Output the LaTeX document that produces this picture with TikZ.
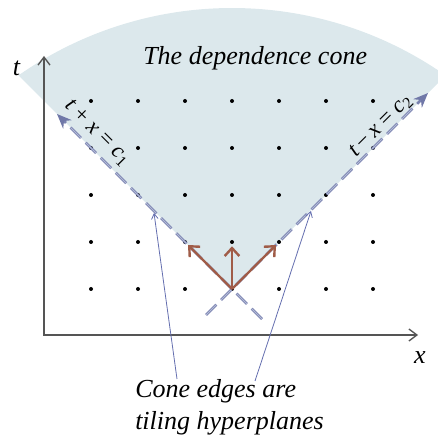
\documentclass[tikz,border=0pt]{standalone}
\usepackage{fontspec}
\setmainfont{Liberation Serif}
\usetikzlibrary{arrows.meta}
\definecolor{conefill}{RGB}{220,232,236}
\definecolor{edgeblue}{RGB}{122,130,176}
\definecolor{edgelight}{RGB}{178,186,214}
\definecolor{edgetip}{RGB}{112,120,168}
\definecolor{brownarrow}{RGB}{160,92,72}
\definecolor{pointerblue}{RGB}{100,110,175}
\definecolor{axisgray}{RGB}{85,85,85}
\begin{document}
\begin{tikzpicture}[x=0.75pt,y=0.75pt,
  axis/.style={draw=axisgray, line width=1pt},
  dotnode/.style={circle, fill=black, inner sep=0pt, minimum size=3pt},
  coneedge/.style={draw=edgeblue, line width=2pt, dash pattern=on 11pt off 5pt, -{Stealth[length=11pt,width=9pt,color=edgetip]}},
  coneinner/.style={draw=edgelight, line width=0.6pt, dash pattern=on 11pt off 5pt, shorten >=12pt},
  deparrow/.style={draw=brownarrow, line width=1.8pt, -{Straight Barb[length=6pt,width=11pt]}, shorten >=1.5pt},
  pointer/.style={draw=pointerblue, line width=0.6pt, -{Straight Barb[length=4pt,width=5pt]}},
  bigtext/.style={font=\fontsize{19.5}{24}\selectfont\itshape, inner sep=0pt},
  eqtext/.style={font=\fontsize{17}{20}\selectfont, inner sep=0pt}
]
\useasboundingbox (0,0) rectangle (438,438);
\begin{scope}
\clip (0,0) rectangle (438,438);
% cone fill
\fill[conefill] (232,149) -- ([shift={(232,58)}]125.04:372) arc[start angle=125.04, end angle=54.96, radius=372] -- cycle;
% axes
\coordinate (tend) at (44,382);
\coordinate (O) at (44,103);
\coordinate (xend) at (418,103);
\draw[axis, {Straight Barb[length=6pt,width=9pt]}-{Straight Barb[length=6pt,width=9pt]}] (tend) -- (O) -- (xend);
% grid of dots
\foreach \i in {0,...,6}
  \foreach \j in {0,...,4}
    \node[dotnode] (d\i\j) at (91+47*\i, 149+47*\j) {};
% cone edges
\coordinate (Ls) at (262,119);
\coordinate (Le) at (57,324);
\coordinate (Rs) at (206,123);
\coordinate (Re) at (428,345);
\draw[coneedge] (Ls) -- (Le);
\draw[coneinner] (Ls) -- (Le);
\draw[coneedge] (Rs) -- (Re);
\draw[coneinner] (Rs) -- (Re);
% dependence arrows
\draw[deparrow] (d30.center) -- (d21);
\draw[deparrow] (d30.center) -- (d31);
\draw[deparrow] (d30.center) -- (d41);
% labels
\node[bigtext] (tlab) at (16.5,370) {t};
\node[bigtext] (xlab) at (420,80) {x};
\node[bigtext, anchor=base west] (title) at (143,373) {The dependence cone};
\node[eqtext, rotate=-45] (eq1) at (97,305) {\textit{t} + \textit{x} = \textit{c}\textsubscript{1}};
\node[eqtext, rotate=45] (eq2) at (381,312) {\textit{t}\,−\,\textit{x} = \textit{c}\textsubscript{2}};
\node[bigtext, anchor=base west] (note1) at (135,40) {Cone edges are};
\node[bigtext, anchor=base west] (note2) at (135,8) {tiling hyperplanes};
% pointers
\coordinate (pl) at (177,59);
\coordinate (pr) at (255,57);
\coordinate (tl) at (154,225);
\coordinate (tr) at (311,227);
\draw[pointer] (pl) -- (tl);
\draw[pointer] (pr) -- (tr);
\end{scope}
\end{tikzpicture}
\end{document}
